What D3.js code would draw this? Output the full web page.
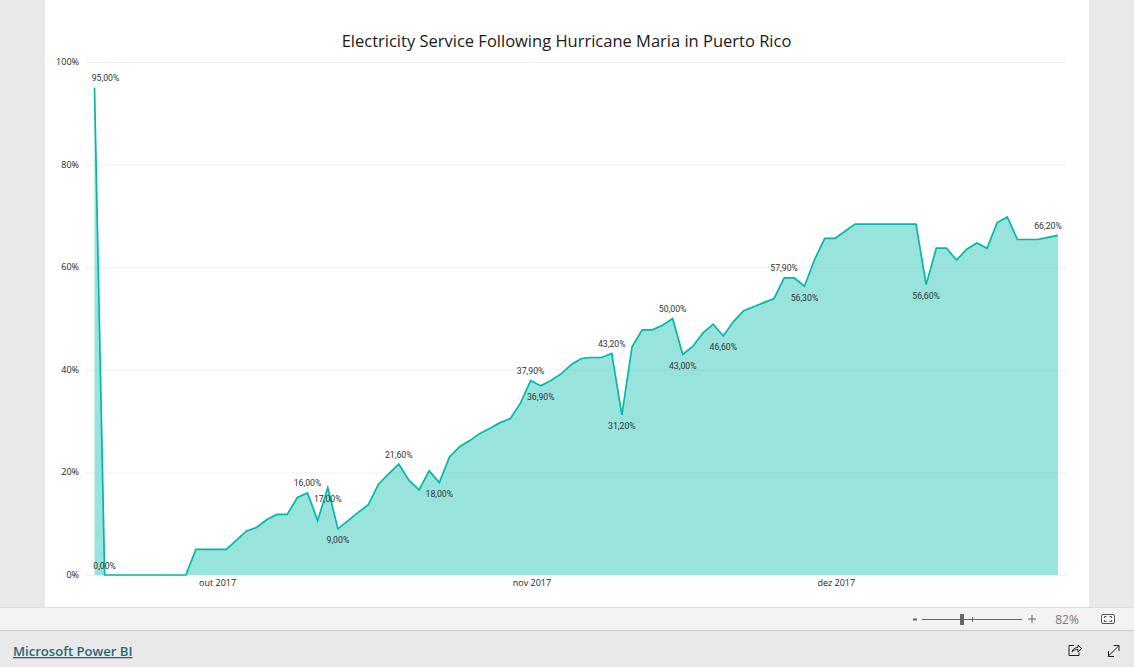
<!DOCTYPE html>
<html>
<head>
<meta charset="utf-8">
<script src="https://cdn.jsdelivr.net/npm/d3@7"></script>
<style>
  html, body { margin: 0; padding: 0; background: #e9e9e9; overflow: hidden; }
  svg { display: block; }
  text { font-family: "Open Sans", sans-serif; }
  .grid line { stroke: #f0f0f0; stroke-width: 1; }
  .grid path, .x-axis path, .x-axis line { display: none; }
  .y-label, .x-axis text { font-size: 9px; fill: #222; font-family: "Open Sans", sans-serif; }
  .point-label { font-size: 8.7px; fill: #333; font-family: "Roboto", sans-serif; }
</style>
</head>
<body>
<div id="chart"></div>
<script>
var title = "Electricity Service Following Hurricane Maria in Puerto Rico";
var startDay = "2017-09-20";

// percent with power, one value per day
var served = [95, 0, 0, 0, 0, 0, 0, 0, 0, 0, 5, 5, 5, 5, 6.8, 8.6, 9.3, 10.8, 11.8, 11.8,
  15.1, 16, 10.6, 17, 9, 10.6, 12.2, 13.7, 17.7, 19.7, 21.6, 18.5, 16.6, 20.3, 18, 23,
  25, 26.2, 27.6, 28.6, 29.7, 30.5, 33.5, 37.9, 36.9, 37.9, 39.2, 41, 42.2, 42.4, 42.4,
  43.2, 31.2, 44.5, 47.8, 47.8, 48.7, 50, 43, 44.6, 47.2, 48.9, 46.6, 49.4, 51.5, 52.3,
  53.1, 53.9, 57.9, 57.9, 56.3, 61.5, 65.6, 65.6, 67, 68.4, 68.4, 68.4, 68.4, 68.4, 68.4,
  68.4, 56.6, 63.7, 63.7, 61.4, 63.5, 64.7, 63.7, 68.7, 69.8, 65.4, 65.4, 65.4, 65.8, 66.2];

// which points carry a label, and whether it sits above or below the line
var labelled = [0, 1, 21, 23, 24, 30, 34, 43, 44, 51, 52, 57, 58, 62, 68, 70, 82, 95];
var labelAbove = [0, 1, 21, 30, 43, 51, 57, 68, 95];
var labelText = ["95,00%", "0,00%", "16,00%", "17,00%", "9,00%", "21,60%", "18,00%", "37,90%",
  "36,90%", "43,20%", "31,20%", "50,00%", "43,00%", "46,60%", "57,90%", "56,30%", "56,60%", "66,20%"];

var yTicks = [0, 20, 40, 60, 80, 100];
var monthTicks = ["2017-10-01", "2017-11-01", "2017-12-01"];

var width = 1134, height = 667;
var parseDay = d3.utcParse("%Y-%m-%d");
var day0 = parseDay(startDay);
var days = served.map(function (v, i) { return d3.utcDay.offset(day0, i); });

var ptBrMonths = ["jan", "fev", "mar", "abr", "mai", "jun", "jul", "ago", "set", "out", "nov", "dez"];

var xScale = d3.scaleUtc().domain([days[0], days[days.length - 1]]).range([94.5, 1058]);
var yScale = d3.scaleLinear().domain([0, 100]).range([575, 62]);

var svg = d3.select("#chart").append("svg").attr("width", width).attr("height", height);

// report page and the viewer bars
svg.append("rect").attr("x", 45).attr("y", 0).attr("width", 1044).attr("height", 607).attr("fill", "#fff");
svg.append("rect").attr("x", 0).attr("y", 607).attr("width", width).attr("height", 23).attr("fill", "#f3f3f3");
svg.append("line").attr("x1", 0).attr("x2", width).attr("y1", 607.5).attr("y2", 607.5).attr("stroke", "#dcdcdc");
svg.append("line").attr("x1", 0).attr("x2", width).attr("y1", 630.5).attr("y2", 630.5).attr("stroke", "#c8c8c8");

svg.append("text").attr("x", 566.5).attr("y", 47)
    .attr("text-anchor", "middle")
    .attr("font-size", 16.5)
    .attr("fill", "#1a1a1a")
    .text(title);

// gridlines
svg.append("g").classed("grid", true)
    .attr("transform", "translate(86,0)")
    .call(d3.axisLeft(yScale).tickValues(yTicks).tickSize(-980).tickFormat(""));

svg.selectAll(".y-label").data(yTicks).enter().append("text")
    .classed("y-label", true)
    .attr("x", 79)
    .attr("y", function (d) { return yScale(d) + 3; })
    .attr("text-anchor", "end")
    .text(function (d) { return d + "%"; });

// month labels sit a little right of the first of the month
svg.append("g").classed("x-axis", true)
    .attr("transform", "translate(11,575)")
    .call(d3.axisBottom(xScale)
        .tickValues(monthTicks.map(parseDay))
        .tickSize(0)
        .tickPadding(5)
        .tickFormat(function (d) { return ptBrMonths[d.getUTCMonth()] + " " + d.getUTCFullYear(); }));

var area = d3.area()
    .x(function (d, i) { return xScale(days[i]); })
    .y0(yScale(0))
    .y1(function (d) { return yScale(d); });
var line = d3.line()
    .x(function (d, i) { return xScale(days[i]); })
    .y(function (d) { return yScale(d); });

svg.append("path").datum(served).attr("d", area).attr("fill", "#01b8aa").attr("fill-opacity", 0.4);
svg.append("path").datum(served).attr("d", line)
    .attr("fill", "none").attr("stroke", "#01b8aa").attr("stroke-width", 1.7).attr("stroke-linejoin", "miter");

// first label and last label get pushed inside the plot
svg.selectAll(".point-label").data(labelled).enter().append("text")
    .classed("point-label", true)
    .attr("x", function (d) {
        var x = xScale(days[d]);
        if (d === 0) return x + 11;
        if (d === served.length - 1) return x - 10;
        return x;
    })
    .attr("y", function (d) {
        return yScale(served[d]) + (labelAbove.indexOf(d) >= 0 ? -6.5 : 14.5);
    })
    .attr("text-anchor", "middle")
    .text(function (d, i) { return labelText[i]; });

// zoom slider
var bar = svg.append("g").attr("stroke", "#666").attr("fill", "none");
bar.append("line").attr("x1", 922).attr("x2", 1022).attr("y1", 619.5).attr("y2", 619.5);
bar.append("line").attr("x1", 972.5).attr("x2", 972.5).attr("y1", 617).attr("y2", 622);
svg.append("rect").attr("x", 960).attr("y", 614).attr("width", 4).attr("height", 11).attr("fill", "#666");
svg.append("rect").attr("x", 913).attr("y", 618.5).attr("width", 4).attr("height", 2).attr("fill", "#666");
svg.append("path").attr("d", "M1028 619h8M1032 615v8").attr("fill", "none").attr("stroke", "#666");
svg.append("text").attr("x", 1067).attr("y", 623.5).attr("text-anchor", "middle")
    .attr("font-size", 12).attr("fill", "#777").text("82%");
// fit to page icon
svg.append("rect").attr("x", 1101.5).attr("y", 614.5).attr("width", 13).attr("height", 9).attr("rx", 1.5)
    .attr("fill", "none").attr("stroke", "#555");
svg.append("path").attr("d", "M1104.500 618v-1.500h2M1111.500 618v-1.500h-2M1104.500 620v1.500h2M1111.500 620v1.500h-2")
    .attr("fill", "none").attr("stroke", "#555");

svg.append("text").attr("x", 13).attr("y", 656)
    .attr("font-size", 13.1).attr("font-weight", 600)
    .attr("fill", "#1f6b75").attr("text-decoration", "underline")
    .text("Microsoft Power BI");

// share and expand icons
svg.append("path").attr("d", "M1074 645.500h-5v10h10v-3M1072 652c0.500-3 3-4.500 6-4.500v-2.500l3.500 3.500-3.500 3.500v-2.500c-2.500 0-4.500 0.500-6 2.500z")
    .attr("fill", "none").attr("stroke", "#222");
svg.append("path").attr("d", "M1108 656.500l11-11M1113.500 645.500h5.500v5.500M1108.500 651v5.500h5.500")
    .attr("fill", "none").attr("stroke", "#222");
</script>
</body>
</html>
